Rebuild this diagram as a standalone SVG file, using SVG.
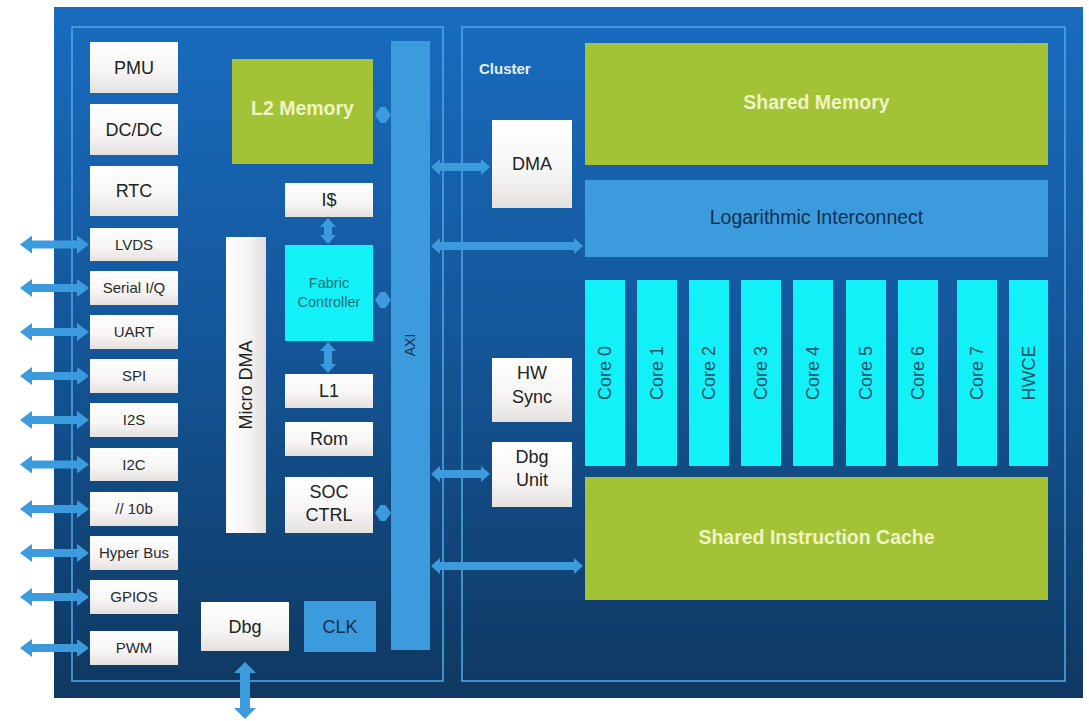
<svg xmlns="http://www.w3.org/2000/svg" width="1089" height="721" viewBox="0 0 1089 721">
  <defs>
    <linearGradient id="bg" x1="0" y1="0" x2="0" y2="1">
      <stop offset="0" stop-color="#196cc0"/>
      <stop offset="0.45" stop-color="#14589c"/>
      <stop offset="1" stop-color="#0f3861"/>
    </linearGradient>
    <linearGradient id="light" x1="0" y1="0" x2="0" y2="1">
      <stop offset="0" stop-color="#ffffff"/>
      <stop offset="0.6" stop-color="#f6f5f4"/>
      <stop offset="1" stop-color="#e4e0de"/>
    </linearGradient>
    <linearGradient id="lightH" x1="0" y1="0" x2="1" y2="0">
      <stop offset="0" stop-color="#ffffff"/>
      <stop offset="0.6" stop-color="#f4f3f2"/>
      <stop offset="1" stop-color="#e2dedc"/>
    </linearGradient>
    <marker id="head" markerUnits="userSpaceOnUse" markerWidth="12" markerHeight="18" refX="0" refY="9" orient="auto-start-reverse" viewBox="0 0 12 18">
      <path d="M0,0 L12,9 L0,18 Z" fill="#3b9bdc"/>
    </marker>
    <marker id="headS" markerUnits="userSpaceOnUse" markerWidth="9" markerHeight="16" refX="0" refY="8" orient="auto-start-reverse" viewBox="0 0 9 16">
      <path d="M0,0 L9,8 L0,16 Z" fill="#3b9bdc"/>
    </marker>
    <marker id="headL" markerUnits="userSpaceOnUse" markerWidth="11" markerHeight="22" refX="0" refY="11" orient="auto-start-reverse" viewBox="0 0 11 22">
      <path d="M0,0 L11,11 L0,22 Z" fill="#3b9bdc"/>
    </marker>
  </defs>
  <style>
    text { font-family: "Liberation Sans", Arial, sans-serif; }
    .box { fill: url(#light); }
    .boxv { fill: url(#lightH); }
    .green { fill: #a3c236; }
    .cyan { fill: #12f1f8; }
    .blue { fill: #3b9bdc; }
    .panel { fill: none; stroke: #4ba6e4; stroke-width: 1.6; }
    .t { fill: #222; font-size: 18px; text-anchor: middle; }
    .ts { fill: #2a2a2a; font-size: 15px; text-anchor: middle; }
    .tg { fill: #eef4c4; font-size: 19.5px; font-weight: bold; text-anchor: middle; }
    .tc { fill: #1f5066; font-size: 18px; text-anchor: middle; }
    .tn { fill: #0f2f52; font-size: 18px; text-anchor: middle; }
    .fc { fill: #1a6c78; font-size: 14.5px; text-anchor: middle; }
    .lbl { fill: #e4f1fb; font-size: 15px; font-weight: bold; }
    .bus { stroke: #3b9bdc; fill: none; stroke-linecap: butt; }
    .h { stroke-width: 8; marker-start: url(#head); marker-end: url(#head); }
    .s { stroke-width: 8; marker-start: url(#headS); marker-end: url(#headS); }
    .l { stroke-width: 10; marker-start: url(#headL); marker-end: url(#headL); }
    .knob { fill: #3b9bdc; }
  </style>

  <!-- chip outline and the two domains -->
  <rect id="chip" x="54" y="7" width="1029" height="691" fill="url(#bg)"/>
  <rect id="soc-panel" class="panel" x="72" y="27" width="371" height="654"/>
  <rect id="cluster-panel" class="panel" x="462" y="27" width="603" height="654"/>

  <!-- connectors -->
  <g id="connectors">
    <!-- external pads -->
    <line class="bus h" x1="32" y1="244.5" x2="77" y2="244.5"/>
    <line class="bus h" x1="32" y1="288" x2="77" y2="288"/>
    <line class="bus h" x1="32" y1="332" x2="77" y2="332"/>
    <line class="bus h" x1="32" y1="376" x2="77" y2="376"/>
    <line class="bus h" x1="32" y1="420" x2="77" y2="420"/>
    <line class="bus h" x1="32" y1="464.5" x2="77" y2="464.5"/>
    <line class="bus h" x1="32" y1="509" x2="77" y2="509"/>
    <line class="bus h" x1="32" y1="553" x2="77" y2="553"/>
    <line class="bus h" x1="32" y1="597" x2="77" y2="597"/>
    <line class="bus h" x1="32" y1="648" x2="77" y2="648"/>
    <!-- debug port -->
    <line class="bus l" x1="245" y1="673" x2="245" y2="708"/>
    <!-- fabric controller links -->
    <line class="bus s" x1="328" y1="227" x2="328" y2="235"/>
    <line class="bus s" x1="328" y1="351" x2="328" y2="364"/>
    <!-- AXI to cluster -->
    <line class="bus s" x1="440" y1="167" x2="481" y2="167"/>
    <line class="bus s" x1="440" y1="246" x2="574" y2="246"/>
    <line class="bus s" x1="440" y1="474" x2="481" y2="474"/>
    <line class="bus s" x1="440" y1="566" x2="574" y2="566"/>
    <!-- AXI ports of the fabric -->
    <path class="knob" d="M375,115 L380.5,107 L385.5,107 L391,115 L385.5,123 L380.5,123 Z"/>
    <path class="knob" d="M375,300 L380.5,292 L385.5,292 L391,300 L385.5,308 L380.5,308 Z"/>
    <path class="knob" d="M375,513 L380.5,505 L385.5,505 L391,513 L385.5,521 L380.5,521 Z"/>
  </g>

  <!-- peripherals -->
  <g id="pmu"><rect class="box" x="90" y="42" width="88" height="51"/><text class="t" x="134" y="74">PMU</text></g>
  <g id="dcdc"><rect class="box" x="90" y="104" width="88" height="51"/><text class="t" x="134" y="136">DC/DC</text></g>
  <g id="rtc"><rect class="box" x="90" y="166" width="88" height="50"/><text class="t" x="134" y="197">RTC</text></g>
  <g id="lvds"><rect class="box" x="90" y="228" width="88" height="33"/><text class="ts" x="134" y="250">LVDS</text></g>
  <g id="serial-iq"><rect class="box" x="90" y="271" width="88" height="34"/><text class="ts" x="134" y="293">Serial I/Q</text></g>
  <g id="uart"><rect class="box" x="90" y="315" width="88" height="34"/><text class="ts" x="134" y="337">UART</text></g>
  <g id="spi"><rect class="box" x="90" y="359" width="88" height="34"/><text class="ts" x="134" y="381">SPI</text></g>
  <g id="i2s"><rect class="box" x="90" y="403" width="88" height="34"/><text class="ts" x="134" y="425">I2S</text></g>
  <g id="i2c"><rect class="box" x="90" y="448" width="88" height="33"/><text class="ts" x="134" y="470">I2C</text></g>
  <g id="par10b"><rect class="box" x="90" y="492" width="88" height="34"/><text class="ts" x="134" y="514">// 10b</text></g>
  <g id="hyperbus"><rect class="box" x="90" y="536" width="88" height="34"/><text class="ts" x="134" y="558">Hyper Bus</text></g>
  <g id="gpios"><rect class="box" x="90" y="580" width="88" height="34"/><text class="ts" x="134" y="602">GPIOS</text></g>
  <g id="pwm"><rect class="box" x="90" y="631" width="88" height="34"/><text class="ts" x="134" y="653">PWM</text></g>

  <!-- fabric -->
  <g id="micro-dma"><rect class="boxv" x="226" y="237" width="40" height="296"/><text class="t" transform="translate(252,385) rotate(-90)" x="0" y="0">Micro DMA</text></g>
  <g id="l2-memory"><rect class="green" x="232" y="59" width="141" height="105"/><text class="tg" x="302.5" y="115">L2 Memory</text></g>
  <g id="icache"><rect class="box" x="285" y="183" width="88" height="34"/><text class="t" x="329" y="206">I$</text></g>
  <g id="fabric-controller"><rect class="cyan" x="285" y="245" width="88" height="96"/><text class="fc" x="329" y="288">Fabric</text><text class="fc" x="329" y="307">Controller</text></g>
  <g id="l1"><rect class="box" x="285" y="374" width="88" height="34"/><text class="t" x="329" y="397">L1</text></g>
  <g id="rom"><rect class="box" x="285" y="422" width="88" height="34"/><text class="t" x="329" y="445">Rom</text></g>
  <g id="soc-ctrl"><rect class="box" x="285" y="477" width="88" height="56"/><text class="t" x="329" y="498">SOC</text><text class="t" x="329" y="521">CTRL</text></g>
  <g id="dbg"><rect class="box" x="201" y="602" width="88" height="49"/><text class="t" x="245" y="633">Dbg</text></g>
  <g id="clk"><rect class="blue" x="304" y="601" width="72" height="51"/><text class="tn" x="340" y="633">CLK</text></g>
  <g id="axi"><rect class="blue" x="391" y="41" width="39" height="609"/><text class="tn" style="font-size:14px" transform="translate(415,345) rotate(-90)" x="0" y="0">AXI</text></g>

  <!-- cluster -->
  <g id="cluster">
    <text class="lbl" x="479" y="74">Cluster</text>
  </g>
  <g id="shared-memory"><rect class="green" x="585" y="43" width="463" height="122"/><text class="tg" x="816.5" y="109">Shared Memory</text></g>
  <g id="dma"><rect class="box" x="492" y="120" width="80" height="88"/><text class="t" x="532" y="170">DMA</text></g>
  <g id="log-interconnect"><rect class="blue" x="585" y="180" width="463" height="77"/><text class="tn" style="font-size:19.5px" x="816.5" y="224">Logarithmic Interconnect</text></g>
  <g id="core0"><rect class="cyan" x="585" y="280" width="40" height="186"/><text class="tc" transform="translate(611,373) rotate(-90)" x="0" y="0">Core 0</text></g>
  <g id="core1"><rect class="cyan" x="637" y="280" width="40" height="186"/><text class="tc" transform="translate(663,373) rotate(-90)" x="0" y="0">Core 1</text></g>
  <g id="core2"><rect class="cyan" x="689" y="280" width="40" height="186"/><text class="tc" transform="translate(715,373) rotate(-90)" x="0" y="0">Core 2</text></g>
  <g id="core3"><rect class="cyan" x="741" y="280" width="40" height="186"/><text class="tc" transform="translate(767,373) rotate(-90)" x="0" y="0">Core 3</text></g>
  <g id="core4"><rect class="cyan" x="793" y="280" width="40" height="186"/><text class="tc" transform="translate(819,373) rotate(-90)" x="0" y="0">Core 4</text></g>
  <g id="core5"><rect class="cyan" x="846" y="280" width="40" height="186"/><text class="tc" transform="translate(872,373) rotate(-90)" x="0" y="0">Core 5</text></g>
  <g id="core6"><rect class="cyan" x="898" y="280" width="40" height="186"/><text class="tc" transform="translate(924,373) rotate(-90)" x="0" y="0">Core 6</text></g>
  <g id="core7"><rect class="cyan" x="957" y="280" width="40" height="186"/><text class="tc" transform="translate(983,373) rotate(-90)" x="0" y="0">Core 7</text></g>
  <g id="hwce"><rect class="cyan" x="1009" y="280" width="39" height="186"/><text class="tc" transform="translate(1035,373) rotate(-90)" x="0" y="0">HWCE</text></g>
  <g id="hw-sync"><rect class="box" x="492" y="358" width="80" height="64"/><text class="t" x="532" y="379">HW</text><text class="t" x="532" y="403">Sync</text></g>
  <g id="dbg-unit"><rect class="box" x="492" y="442" width="80" height="65"/><text class="t" x="532" y="463">Dbg</text><text class="t" x="532" y="486">Unit</text></g>
  <g id="shared-icache"><rect class="green" x="585" y="477" width="463" height="123"/><text class="tg" x="816.5" y="544">Shared Instruction Cache</text></g>
</svg>
